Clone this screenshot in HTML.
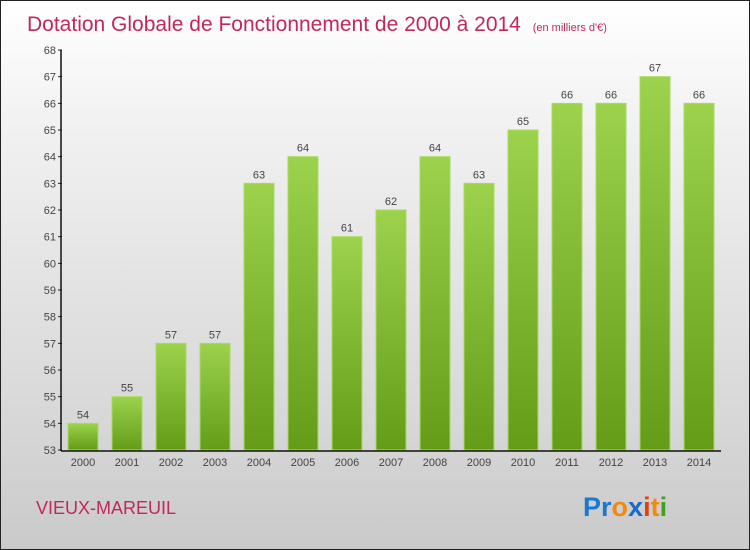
<!DOCTYPE html>
<html><head><meta charset="utf-8"><style>
html,body{margin:0;padding:0}
body{width:750px;height:550px;overflow:hidden;font-family:"Liberation Sans",sans-serif}
#wrap{position:relative;width:748px;height:548px;border:1px solid #222;background:linear-gradient(#ffffff,#f0f0f0 25%,#d8d8d8 75%,#cacaca)}
</style></head><body>
<div id="wrap">
<svg width="748" height="548" style="position:absolute;left:0;top:0" id="svg">
<defs><linearGradient id="bg" x1="0" y1="0" x2="0" y2="1"><stop offset="0" stop-color="#9cd24c"/><stop offset="1" stop-color="#649c18"/></linearGradient></defs>
<text x="26" y="30" font-size="21" fill="#c2285a">Dotation Globale de Fonctionnement de 2000 à 2014 <tspan font-size="11" dx="6">(en milliers d'€)</tspan></text>
<text x="35" y="513" font-size="18" fill="#c2285a">VIEUX-MAREUIL</text>
<text x="582" y="515" font-size="27" font-weight="bold"><tspan fill="#1a78d0">Pr</tspan><tspan fill="#f08a10">o</tspan><tspan fill="#1a68c8">x</tspan><tspan fill="#e04010">i</tspan><tspan fill="#f08a10">t</tspan><tspan fill="#40a020">i</tspan></text>
<g id="g"></g>
</svg>
</div>
<script>
const years=["2000","2001","2002","2003","2004","2005","2006","2007","2008","2009","2010","2011","2012","2013","2014"];
const values=[54,55,57,57,63,64,61,62,64,63,65,66,66,67,66];
const yTicks=[53,54,55,56,57,58,59,60,61,62,63,64,65,66,67,68];
const NS="http://www.w3.org/2000/svg";
const g=document.getElementById('g');
const y=v=>449-(v-53)*(400/15);
const xc=i=>82+i*44;
function mk(t,a){const e=document.createElementNS(NS,t);for(const k in a)e.setAttribute(k,a[k]);g.appendChild(e);return e;}
yTicks.forEach(v=>{
 const l=mk('line',{x1:57,x2:61,y1:y(v),y2:y(v),stroke:'#222'});
 
 
 const t=mk('text',{x:55,y:y(v)+4,'font-size':11,fill:'#444','text-anchor':'end'});t.textContent=v;
 
 
});
values.forEach((v,i)=>{
 const r=mk('rect',{x:xc(i)-15,y:y(v),width:30,height:y(53)-y(v),fill:'url(#bg)',stroke:'#a8dc60','stroke-width':1});
 
 
 const t=mk('text',{x:xc(i),y:y(v)-5,'font-size':11,fill:'#444','text-anchor':'middle'});t.textContent=v;
 
 
 const xl=mk('text',{x:xc(i),y:465,'font-size':11,fill:'#444','text-anchor':'middle'});xl.textContent=years[i];
 
 
});
const ya=mk('line',{x1:60,x2:60,y1:49,y2:450,stroke:'#111','stroke-width':1.5});


const xa=mk('line',{x1:60,x2:720,y1:450,y2:450,stroke:'#111','stroke-width':1.5});


</script>
</body></html>
